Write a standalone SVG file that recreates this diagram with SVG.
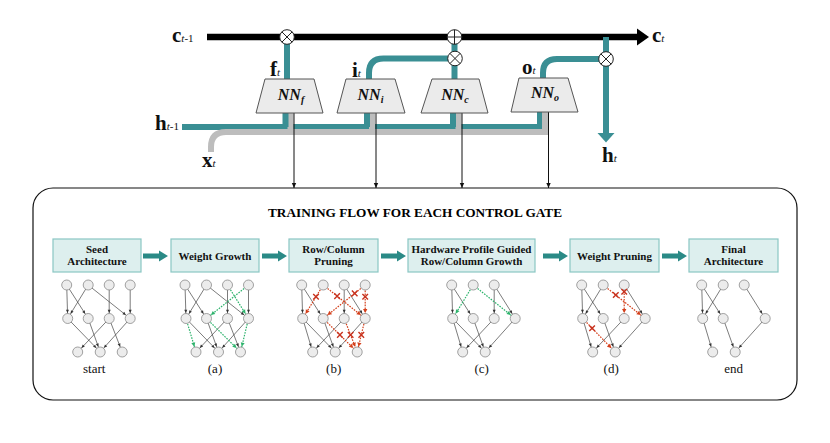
<svg xmlns="http://www.w3.org/2000/svg" xmlns:xlink="http://www.w3.org/1999/xlink" width="830" height="443" viewBox="0 0 830 443">
<style>
.lb{font-family:"Liberation Serif",serif;font-weight:bold;font-size:21px;fill:#111}
.sb{font-size:11px;font-weight:normal;font-style:italic}
.sn{font-size:11px;font-weight:normal}
.nn{font-family:"Liberation Serif",serif;font-weight:bold;font-style:italic;font-size:16px;fill:#111;text-anchor:middle}
.teal{stroke:#3a8f94;stroke-width:6;fill:none}
.gray{stroke:#bdbdbd;stroke-width:6;fill:none}
.trap{fill:#ebebeb;stroke:#555;stroke-width:1}
.op{fill:#fff;stroke:#222;stroke-width:1}
.opl{stroke:#222;stroke-width:1}
.thin{stroke:#111;stroke-width:1;marker-end:url(#ab)}
.fb{fill:#ddefee;stroke:#8ac6c3;stroke-width:1.2}
.ft{font-family:"Liberation Serif",serif;font-weight:bold;font-size:11px;text-anchor:middle;fill:#111}
.e{stroke:#444;stroke-width:0.7;marker-end:url(#ak)}
.g{stroke:#2db36c;stroke-width:1.2;stroke-dasharray:1.6 1.2;marker-end:url(#ag)}
.r{stroke:#d4401c;stroke-width:1.2;stroke-dasharray:1.6 1.2;marker-end:url(#ar)}
.n{fill:#ececec;stroke:#8a8a8a;stroke-width:0.8}
.x{stroke:#c8321e;stroke-width:1.4;fill:none}
.cap{font-family:"Liberation Serif",serif;font-size:13px;text-anchor:middle;fill:#111}
.arr{fill:#2a8a86}
</style>
<defs>
<marker id="ak" markerUnits="userSpaceOnUse" markerWidth="8" markerHeight="8" refX="5.6" refY="0" orient="auto" overflow="visible"><path d="M-3.2,-1.5 L0,0 L-3.2,1.5z" fill="#333"/></marker>
<marker id="ag" markerUnits="userSpaceOnUse" markerWidth="8" markerHeight="8" refX="5.6" refY="0" orient="auto" overflow="visible"><path d="M-4,-2 L0,0 L-4,2z" fill="#2db36c"/></marker>
<marker id="ar" markerUnits="userSpaceOnUse" markerWidth="8" markerHeight="8" refX="5.6" refY="0" orient="auto" overflow="visible"><path d="M-4,-2.2 L0,0 L-4,2.2z" fill="#d4401c"/></marker>
<marker id="ab" markerUnits="userSpaceOnUse" markerWidth="8" markerHeight="8" refX="0" refY="0" orient="auto" overflow="visible"><path d="M-5,-2.2 L0,0 L-5,2.2z" fill="#111"/></marker>
<circle id="nd" class="n" r="5"/>
<path id="xm" class="x" d="M-2.8,-2.8 L2.8,2.8 M2.8,-2.8 L-2.8,2.8"/>
<polygon id="fa" class="arr" points="0,253.5 16,253.5 16,250.5 25,256 16,261.5 16,258.5 0,258.5"/>
</defs>
<rect width="830" height="443" fill="#fff"/>

<g id="connectors">
  <path d="M207,37 H640" stroke="#000" stroke-width="6.5"/>
  <polygon points="637,28.5 649,37 637,45.5" fill="#000"/>
  <path class="teal" d="M182,127 H540 V112"/>
  <path class="gray" d="M211,152 V147 Q211,132 226,132 H545 V112"/>
  <path class="gray" d="M290.5,132 V113 M372,132 V113 M458.5,132 V113"/>
  <path class="teal" d="M285.5,127 V113 M367,127 V113 M453,127 V113"/>
  <path class="teal" d="M287,37 V80"/>
  <path class="teal" d="M454.5,37 V80"/>
  <path class="teal" d="M369,80 V73 Q369,58.5 383.5,58.5 H455"/>
  <path class="teal" d="M543,78 V73 Q543,59 557,59 H606"/>
  <path class="teal" d="M606,37 V134"/>
  <polygon points="597.5,133 614.5,133 606,142.5" fill="#3a8f94"/>
  <line class="thin" x1="294" y1="113" x2="294" y2="188"/>
  <line class="thin" x1="376" y1="113" x2="376" y2="188"/>
  <line class="thin" x1="462" y1="113" x2="462" y2="188"/>
  <line class="thin" x1="548.5" y1="111" x2="548.5" y2="188"/>
  <use href="#fa" x="143"/>
  <use href="#fa" x="262"/>
  <use href="#fa" x="381"/>
  <use href="#fa" x="543"/>
  <use href="#fa" x="662"/>
</g>

<g id="op-f"><circle class="op" cx="287" cy="37" r="7.3"/><path class="opl" d="M281.8,31.8 L292.2,42.2 M292.2,31.8 L281.8,42.2"/></g>
<g id="op-plus"><circle class="op" cx="454.5" cy="37" r="7.3"/><path class="opl" d="M447.2,37 H461.8 M454.5,29.7 V44.3"/></g>
<g id="op-i"><circle class="op" cx="455" cy="58.5" r="7.3"/><path class="opl" d="M449.8,53.3 L460.2,63.7 M460.2,53.3 L449.8,63.7"/></g>
<g id="op-o"><circle class="op" cx="606" cy="59" r="7.3"/><path class="opl" d="M600.8,53.8 L611.2,64.2 M611.2,53.8 L600.8,64.2"/></g>

<g id="nn-f"><polygon class="trap" points="265,79 314,79 323,113 256,113"/><text class="nn" x="291" y="100">NN<tspan font-size="10" dy="3">f</tspan></text></g>
<g id="nn-i"><polygon class="trap" points="346,79 395,79 405,113 337,113"/><text class="nn" x="370.5" y="100">NN<tspan font-size="10" dy="3">i</tspan></text></g>
<g id="nn-c"><polygon class="trap" points="432,79 479,79 488,113 421,113"/><text class="nn" x="455" y="100">NN<tspan font-size="10" dy="3">c</tspan></text></g>
<g id="nn-o"><polygon class="trap" points="519,78 568,78 578,112 511,112"/><text class="nn" x="545" y="98">NN<tspan font-size="10" dy="3">o</tspan></text></g>

<g id="labels">
  <text class="lb" x="172" y="42">c<tspan class="sb">t</tspan><tspan class="sn">-1</tspan></text>
  <text class="lb" x="155" y="130">h<tspan class="sb">t</tspan><tspan class="sn">-1</tspan></text>
  <text class="lb" x="202" y="167">x<tspan class="sb">t</tspan></text>
  <text class="lb" x="270" y="76">f<tspan class="sb">t</tspan></text>
  <text class="lb" x="352" y="77">i<tspan class="sb">t</tspan></text>
  <text class="lb" x="522" y="74">o<tspan class="sb">t</tspan></text>
  <text class="lb" x="602" y="162">h<tspan class="sb">t</tspan></text>
  <text class="lb" x="652" y="42">c<tspan class="sb">t</tspan></text>
</g>

<g id="flow-frame">
  <rect x="33" y="188" width="764" height="212" rx="20" fill="none" stroke="#111" stroke-width="1.2"/>
  <text x="415" y="217" font-family="Liberation Serif, serif" font-weight="bold" font-size="13" text-anchor="middle" textLength="294" lengthAdjust="spacingAndGlyphs">TRAINING FLOW FOR EACH CONTROL GATE</text>
</g>

<g id="step-seed"><rect class="fb" x="53" y="239" width="88" height="33"/><text class="ft" x="97" y="252.5">Seed</text><text class="ft" x="97" y="265">Architecture</text></g>
<g id="step-growth"><rect class="fb" x="171" y="239" width="88" height="33"/><text class="ft" x="215" y="259.5">Weight Growth</text></g>
<g id="step-rcprune"><rect class="fb" x="289" y="239" width="89" height="33"/><text class="ft" x="333.5" y="252.5">Row/Column</text><text class="ft" x="333.5" y="265">Pruning</text></g>
<g id="step-hw"><rect class="fb" x="408" y="239" width="127" height="33"/><text class="ft" x="471.5" y="252.5">Hardware Profile Guided</text><text class="ft" x="471.5" y="265">Row/Column Growth</text></g>
<g id="step-wprune"><rect class="fb" x="570" y="239" width="89" height="33"/><text class="ft" x="614.5" y="259.5">Weight Pruning</text></g>
<g id="step-final"><rect class="fb" x="689" y="239" width="89" height="33"/><text class="ft" x="733.5" y="252.5">Final</text><text class="ft" x="733.5" y="265">Architecture</text></g>

<g id="graph-start" transform="translate(66.7,285)">
  <line class="e" x1="0" y1="0" x2="1" y2="33.5"/>
  <line class="e" x1="0" y1="0" x2="21.5" y2="33.5"/>
  <line class="e" x1="21.5" y1="0" x2="1" y2="33.5"/>
  <line class="e" x1="21.5" y1="0" x2="63.5" y2="33.5"/>
  <line class="e" x1="42.5" y1="0" x2="42.5" y2="33.5"/>
  <line class="e" x1="63.5" y1="0" x2="63.5" y2="33.5"/>
  <line class="e" x1="1" y1="33.5" x2="33.5" y2="67"/>
  <line class="e" x1="21.5" y1="33.5" x2="33.5" y2="67"/>
  <line class="e" x1="42.5" y1="33.5" x2="11" y2="67"/>
  <line class="e" x1="42.5" y1="33.5" x2="55.5" y2="67"/>
  <line class="e" x1="63.5" y1="33.5" x2="33.5" y2="67"/>
  <use href="#nd" x="0" y="0"/><use href="#nd" x="21.5" y="0"/><use href="#nd" x="42.5" y="0"/><use href="#nd" x="63.5" y="0"/>
  <use href="#nd" x="1" y="33.5"/><use href="#nd" x="21.5" y="33.5"/><use href="#nd" x="42.5" y="33.5"/><use href="#nd" x="63.5" y="33.5"/>
  <use href="#nd" x="11" y="67"/><use href="#nd" x="33.5" y="67"/><use href="#nd" x="55.5" y="67"/>
  <text class="cap" x="27.5" y="88">start</text>
</g>

<g id="graph-a" transform="translate(185,285)">
  <line class="e" x1="0" y1="0" x2="1" y2="33.5"/>
  <line class="e" x1="0" y1="0" x2="21.5" y2="33.5"/>
  <line class="e" x1="21.5" y1="0" x2="1" y2="33.5"/>
  <line class="e" x1="21.5" y1="0" x2="63.5" y2="33.5"/>
  <line class="e" x1="42.5" y1="0" x2="42.5" y2="33.5"/>
  <line class="e" x1="63.5" y1="0" x2="63.5" y2="33.5"/>
  <line class="e" x1="1" y1="33.5" x2="33.5" y2="67"/>
  <line class="e" x1="21.5" y1="33.5" x2="33.5" y2="67"/>
  <line class="e" x1="42.5" y1="33.5" x2="11" y2="67"/>
  <line class="e" x1="42.5" y1="33.5" x2="55.5" y2="67"/>
  <line class="e" x1="63.5" y1="33.5" x2="33.5" y2="67"/>
  <line class="g" x1="42.5" y1="0" x2="63.5" y2="33.5"/>
  <line class="g" x1="63.5" y1="0" x2="21.5" y2="33.5"/>
  <line class="g" x1="1" y1="33.5" x2="11" y2="67"/>
  <line class="g" x1="21.5" y1="33.5" x2="55.5" y2="67"/>
  <line class="g" x1="63.5" y1="33.5" x2="55.5" y2="67"/>
  <use href="#nd" x="0" y="0"/><use href="#nd" x="21.5" y="0"/><use href="#nd" x="42.5" y="0"/><use href="#nd" x="63.5" y="0"/>
  <use href="#nd" x="1" y="33.5"/><use href="#nd" x="21.5" y="33.5"/><use href="#nd" x="42.5" y="33.5"/><use href="#nd" x="63.5" y="33.5"/>
  <use href="#nd" x="11" y="67"/><use href="#nd" x="33.5" y="67"/><use href="#nd" x="55.5" y="67"/>
  <text class="cap" x="30" y="88">(a)</text>
</g>

<g id="graph-b" transform="translate(301.7,285)">
  <line class="e" x1="0" y1="0" x2="1" y2="33.5"/>
  <line class="e" x1="0" y1="0" x2="21.5" y2="33.5"/>
  <line class="e" x1="42.5" y1="0" x2="42.5" y2="33.5"/>
  <line class="e" x1="42.5" y1="0" x2="63.5" y2="33.5"/>
  <line class="e" x1="1" y1="33.5" x2="11" y2="67"/>
  <line class="e" x1="1" y1="33.5" x2="33.5" y2="67"/>
  <line class="e" x1="21.5" y1="33.5" x2="33.5" y2="67"/>
  <line class="e" x1="42.5" y1="33.5" x2="11" y2="67"/>
  <line class="e" x1="63.5" y1="33.5" x2="33.5" y2="67"/>
  <line class="r" x1="21.5" y1="0" x2="1" y2="33.5"/>
  <line class="r" x1="21.5" y1="0" x2="63.5" y2="33.5"/>
  <line class="r" x1="63.5" y1="0" x2="21.5" y2="33.5"/>
  <line class="r" x1="63.5" y1="0" x2="63.5" y2="33.5"/>
  <line class="r" x1="21.5" y1="33.5" x2="55.5" y2="67"/>
  <line class="r" x1="42.5" y1="33.5" x2="55.5" y2="67"/>
  <line class="r" x1="63.5" y1="33.5" x2="55.5" y2="67"/>
  <use href="#nd" x="0" y="0"/><use href="#nd" x="21.5" y="0"/><use href="#nd" x="42.5" y="0"/><use href="#nd" x="63.5" y="0"/>
  <use href="#nd" x="1" y="33.5"/><use href="#nd" x="21.5" y="33.5"/><use href="#nd" x="42.5" y="33.5"/><use href="#nd" x="63.5" y="33.5"/>
  <use href="#nd" x="11" y="67"/><use href="#nd" x="33.5" y="67"/><use href="#nd" x="55.5" y="67"/>
  <use href="#xm" x="14.3" y="11.7"/><use href="#xm" x="35.4" y="11.1"/><use href="#xm" x="53" y="8.4"/><use href="#xm" x="63.5" y="11.7"/>
  <use href="#xm" x="38.2" y="49.9"/><use href="#xm" x="48.9" y="49.9"/><use href="#xm" x="59.6" y="49.9"/>
  <text class="cap" x="32" y="88">(b)</text>
</g>

<g id="graph-c" transform="translate(451.7,285)">
  <line class="e" x1="0" y1="0" x2="1" y2="33.5"/>
  <line class="e" x1="0" y1="0" x2="21.5" y2="33.5"/>
  <line class="e" x1="42.5" y1="0" x2="42.5" y2="33.5"/>
  <line class="e" x1="42.5" y1="0" x2="63.5" y2="33.5"/>
  <line class="e" x1="1" y1="33.5" x2="11" y2="67"/>
  <line class="e" x1="1" y1="33.5" x2="33.5" y2="67"/>
  <line class="e" x1="21.5" y1="33.5" x2="33.5" y2="67"/>
  <line class="e" x1="42.5" y1="33.5" x2="11" y2="67"/>
  <line class="e" x1="63.5" y1="33.5" x2="33.5" y2="67"/>
  <line class="g" x1="21.5" y1="0" x2="1" y2="33.5"/>
  <line class="g" x1="21.5" y1="0" x2="63.5" y2="33.5"/>
  <use href="#nd" x="0" y="0"/><use href="#nd" x="21.5" y="0"/><use href="#nd" x="42.5" y="0"/>
  <use href="#nd" x="1" y="33.5"/><use href="#nd" x="21.5" y="33.5"/><use href="#nd" x="42.5" y="33.5"/><use href="#nd" x="63.5" y="33.5"/>
  <use href="#nd" x="11" y="67"/><use href="#nd" x="33.5" y="67"/>
  <text class="cap" x="30" y="88">(c)</text>
</g>

<g id="graph-d" transform="translate(581.7,285)">
  <line class="e" x1="0" y1="0" x2="1" y2="33.5"/>
  <line class="e" x1="0" y1="0" x2="21.5" y2="33.5"/>
  <line class="e" x1="21.5" y1="0" x2="1" y2="33.5"/>
  <line class="e" x1="42.5" y1="0" x2="63.5" y2="33.5"/>
  <line class="e" x1="1" y1="33.5" x2="11" y2="67"/>
  <line class="e" x1="21.5" y1="33.5" x2="33.5" y2="67"/>
  <line class="e" x1="42.5" y1="33.5" x2="11" y2="67"/>
  <line class="e" x1="63.5" y1="33.5" x2="33.5" y2="67"/>
  <line class="r" x1="21.5" y1="0" x2="63.5" y2="33.5"/>
  <line class="r" x1="42.5" y1="0" x2="42.5" y2="33.5"/>
  <line class="r" x1="1" y1="33.5" x2="33.5" y2="67"/>
  <use href="#nd" x="0" y="0"/><use href="#nd" x="21.5" y="0"/><use href="#nd" x="42.5" y="0"/>
  <use href="#nd" x="1" y="33.5"/><use href="#nd" x="21.5" y="33.5"/><use href="#nd" x="42.5" y="33.5"/><use href="#nd" x="63.5" y="33.5"/>
  <use href="#nd" x="11" y="67"/><use href="#nd" x="33.5" y="67"/>
  <use href="#xm" x="34.1" y="10"/><use href="#xm" x="42.5" y="6.7"/><use href="#xm" x="10.4" y="43.2"/>
  <text class="cap" x="29.5" y="88">(d)</text>
</g>

<g id="graph-end" transform="translate(701.7,285)">
  <line class="e" x1="0" y1="0" x2="1" y2="33.5"/>
  <line class="e" x1="0" y1="0" x2="21.5" y2="33.5"/>
  <line class="e" x1="21.5" y1="0" x2="1" y2="33.5"/>
  <line class="e" x1="42.5" y1="0" x2="63.5" y2="33.5"/>
  <line class="e" x1="1" y1="33.5" x2="11" y2="67"/>
  <line class="e" x1="21.5" y1="33.5" x2="33.5" y2="67"/>
  <line class="e" x1="63.5" y1="33.5" x2="33.5" y2="67"/>
  <use href="#nd" x="0" y="0"/><use href="#nd" x="21.5" y="0"/><use href="#nd" x="42.5" y="0"/>
  <use href="#nd" x="1" y="33.5"/><use href="#nd" x="21.5" y="33.5"/><use href="#nd" x="63.5" y="33.5"/>
  <use href="#nd" x="11" y="67"/><use href="#nd" x="33.5" y="67"/>
  <text class="cap" x="32" y="88">end</text>
</g>
</svg>
